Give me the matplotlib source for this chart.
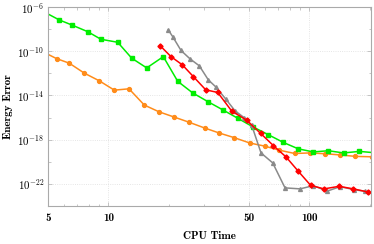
import numpy as np
import matplotlib
matplotlib.use("Agg")
import matplotlib.pyplot as plt
from matplotlib.ticker import FixedLocator, FixedFormatter, NullFormatter

plt.rcParams["mathtext.fontset"] = "cm"
plt.rcParams["font.family"] = ["cmb10", "DejaVu Serif"]

# --------------------------------------------------------------------------- #
# Data (CPU time vs. energy error)                    #
# --------------------------------------------------------------------------- #
green_t = [4.8, 5.69, 6.56, 7.88, 9.18, 11.12, 13.06, 15.51, 18.76, 22.13,
           26.22, 31.21, 37.07, 43.93, 52.65, 62.55, 74.27, 88.21, 104.8,
           124.4, 148.2, 177.6, 211.0]
green_exp = [-6.46, -7.17, -7.62, -8.23, -8.92, -9.19, -10.63, -11.51, -10.49,
             -12.72, -13.76, -14.55, -15.30, -16.05, -16.86, -17.55, -18.25,
             -18.83, -19.11, -19.00, -19.20, -19.06, -19.18]

orange_t = [4.8, 5.52, 6.38, 7.58, 9.01, 10.70, 12.66, 15.09, 17.86, 21.21,
            25.18, 30.09, 35.65, 42.35, 50.52, 60.22, 70.95, 84.65, 100.5,
            119.8, 142.3, 169.6, 205.0]
orange_exp = [-10.12, -10.67, -11.08, -11.98, -12.68, -13.52, -13.40, -14.87,
              -15.48, -15.95, -16.42, -16.94, -17.40, -17.82, -18.30, -18.59,
              -18.95, -19.25, -19.20, -19.27, -19.38, -19.51, -19.55]

red_t = [18.07, 20.49, 23.33, 26.46, 30.51, 35.00, 41.10, 48.70, 57.32, 66.22,
         76.62, 88.21, 101.7, 118.4, 140.7, 165.8, 196.8]
red_exp = [-9.49, -10.49, -11.23, -12.29, -13.49, -13.73, -15.41, -16.23,
           -17.44, -18.53, -19.56, -20.86, -22.14, -22.45, -22.22, -22.45,
           -22.74]

gray_t = [19.87, 20.89, 22.98, 25.48, 28.35, 31.43, 34.21, 38.49, 42.69, 47.49,
          51.70, 57.52, 65.77, 75.74, 89.95, 104.8, 123.0, 142.3, 167.1, 189.5]
gray_exp = [-8.08, -8.68, -9.93, -10.69, -11.32, -12.59, -13.22, -14.35,
            -15.39, -16.02, -16.70, -19.20, -20.10, -22.36, -22.45, -22.16,
            -22.65, -22.25, -22.52, -22.67]

x_ticks = [5, 10, 50, 100]
x_minor = [6, 7, 8, 9, 20, 30, 40, 60, 70, 80, 90, 200]
y_ticks = [1e-6, 1e-10, 1e-14, 1e-18, 1e-22]
y_labels = [r"$\mathbf{10^{-6}}$", r"$\mathbf{10^{-10}}$", r"$\mathbf{10^{-14}}$",
            r"$\mathbf{10^{-18}}$", r"$\mathbf{10^{-22}}$"]
y_minor = [1e-8, 1e-12, 1e-16, 1e-20, 1e-24]

# --------------------------------------------------------------------------- #
# Plot                                                                        #
# --------------------------------------------------------------------------- #
fig = plt.figure(figsize=(3.74, 2.44), dpi=100)
ax = fig.add_axes([0.1283, 0.1557, 0.8637, 0.8156])

series = [
    (orange_t, orange_exp, "#ff8c1a", "o", 2.8),
    (green_t, green_exp, "#00ee00", "s", 2.6),
    (gray_t, gray_exp, "#8a8a8a", "^", 2.8),
    (red_t, red_exp, "#ff0000", "D", 2.6),
]
for t, e, col, mk, ms in series:
    ax.plot(t, 10.0 ** np.array(e), color=col, lw=1.1, marker=mk, ms=ms,
            mec=col, mfc=col)

ax.set_xscale("log")
ax.set_yscale("log")
ax.set_xlim(5, 203)
ax.set_ylim(1e-24, 1e-6)

ax.xaxis.set_major_locator(FixedLocator(x_ticks))
ax.xaxis.set_major_formatter(FixedFormatter([str(v) for v in x_ticks]))
ax.xaxis.set_minor_locator(FixedLocator(x_minor))
ax.xaxis.set_minor_formatter(NullFormatter())
ax.yaxis.set_major_locator(FixedLocator(y_ticks))
ax.yaxis.set_major_formatter(FixedFormatter(y_labels))
ax.yaxis.set_minor_locator(FixedLocator(y_minor))
ax.yaxis.set_minor_formatter(NullFormatter())

ax.tick_params(which="both", direction="in", top=True, right=True,
               color="#b0b0b0", labelsize=7.8, pad=3)
ax.tick_params(axis="x", pad=5, labelsize=8)
ax.tick_params(which="major", length=3, width=0.5)
ax.tick_params(which="minor", length=1.8, width=0.5)
for sp in ax.spines.values():
    sp.set_color("#aaaaaa")
    sp.set_linewidth(0.8)

ax.grid(True, which="major", ls=":", color="#dddddd", lw=0.6)

ax.set_xlabel("CPU Time", fontsize=8, labelpad=6)
ax.set_ylabel("Energy Error", fontsize=8, labelpad=3)

fig.savefig("out.png", dpi=100)
